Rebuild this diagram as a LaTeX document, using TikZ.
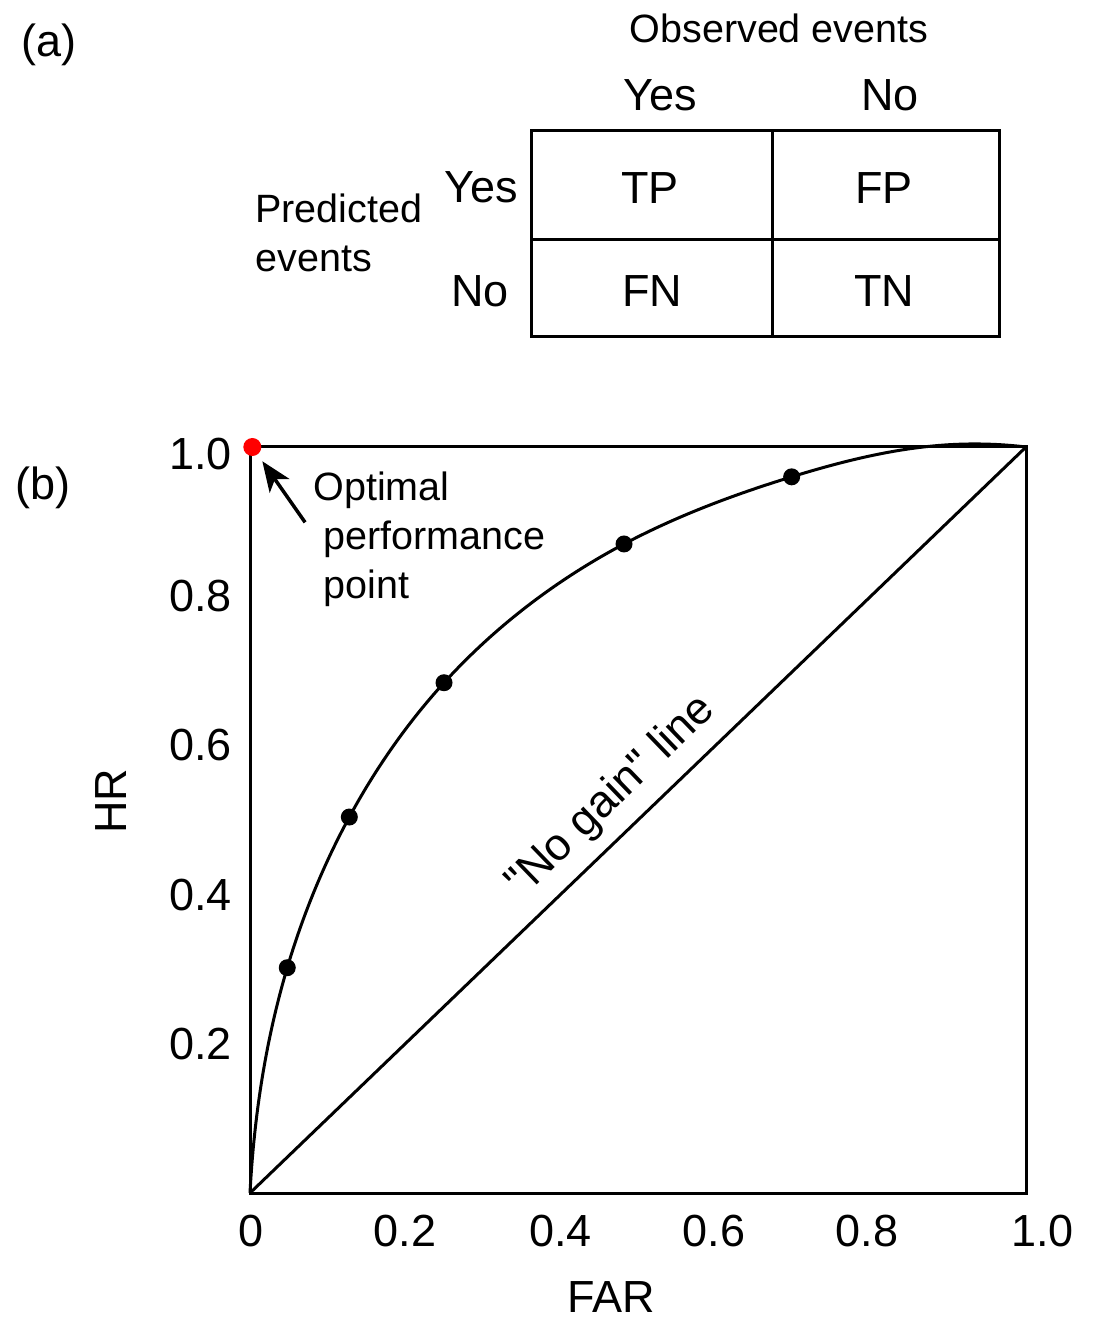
\documentclass[tikz,border=0pt]{standalone}
\usepackage{fontspec}
\setmainfont{Liberation Sans}[Ligatures=TeXOff]
\usepackage{tikz}
\usetikzlibrary{arrows.meta, positioning, calc, hobby}

\begin{document}
\begin{tikzpicture}[x=0.5pt, y=-0.5pt,
	big/.style={font=\fontsize{22.5}{27}\selectfont, inner sep=0pt},
	mid/.style={font=\fontsize{19.75}{24.5}\selectfont, inner sep=0pt},
	frame/.style={line width=1.5pt},
	dot/.style={circle, fill=black, inner sep=0pt, minimum size=8.5pt}]
	\useasboundingbox (0,0) rectangle (1093,1325);

	% (a) contingency table
	\node[big] (parta) at (49,45) {(a)};
	\node[mid] (observed) at (779,28) {Observed events};
	\node[big] (colyes) at (660,95) {Yes};
	\node[big] (colno) at (890,95) {No};
	\node[big] (rowyes) at (481,187) {Yes};
	\node[big] (rowno) at (480,291) {No};
	\node[mid, align=left, anchor=west] (predicted) at (255,233) {Predicted\\events};

	\draw[frame] (531,131) rectangle (999,337);
	\draw[frame] (531,240) -- (999,240);
	\draw[frame] (772,131) -- (772,337);

	\node[big] (tp) at (650,188) {TP};
	\node[big] (fp) at (884,188) {FP};
	\node[big] (fn) at (652,291) {FN};
	\node[big] (tn) at (884,291) {TN};

	% (b) ROC curve
	\node[big] (partb) at (43,488) {(b)};
	\begin{scope}[shift={(250,1193)}, x=388pt, y=373pt]
	\draw[frame] (0,0) rectangle (1,1);
	\draw[frame] (0,0) -- (1,1);
	\draw[frame, use Hobby shortcut] ([out angle=87]0,0) .. (0.048,0.302) .. (0.128,0.504)
		.. (0.25,0.684) .. (0.482,0.870) .. (0.698,0.960) .. (0.90,1.003) .. (1,1);

	\foreach \px/\py [count=\i] in {0.048/0.302, 0.128/0.504, 0.25/0.684, 0.482/0.870, 0.698/0.960}
	\node[dot] (pt\i) at (\px,\py) {};

	\foreach \v/\y [count=\i] in {0.2/0.2, 0.4/0.4, 0.6/0.6, 0.8/0.8, 1.0/0.99}
	\node[big, anchor=east] (ytick\i) at (-0.023,\y) {\v};
	\foreach \v/\x [count=\i] in {0/0.001, 0.2/0.2, 0.4/0.4, 0.6/0.598, 0.8/0.795, 1.0/1.021}
	\node[big] (xtick\i) at (\x,-0.051) {\v};

	\node[big, rotate=90] (hr) at (-0.179,0.525) {HR};
	\node[big] (far) at (0.466,-0.139) {FAR};
	\node[big, rotate=44] (nogain) at (0.466,0.531) {"No gain" line};

	\node[dot, fill=red, minimum size=9pt] (optimum) at (0.003,1) {};
	\coordinate (arrtail) at (0.071,0.899);
	\draw[line width=1.75pt, -{Stealth[length=15pt, width=12pt, inset=4pt]}, shorten >=4pt] (arrtail) -- (optimum);
	\end{scope}
	\node[mid, align=left, anchor=west] (optimal) at (323,539) {\hspace*{-5pt}Optimal\\performance\\point};
\end{tikzpicture}
\end{document}
